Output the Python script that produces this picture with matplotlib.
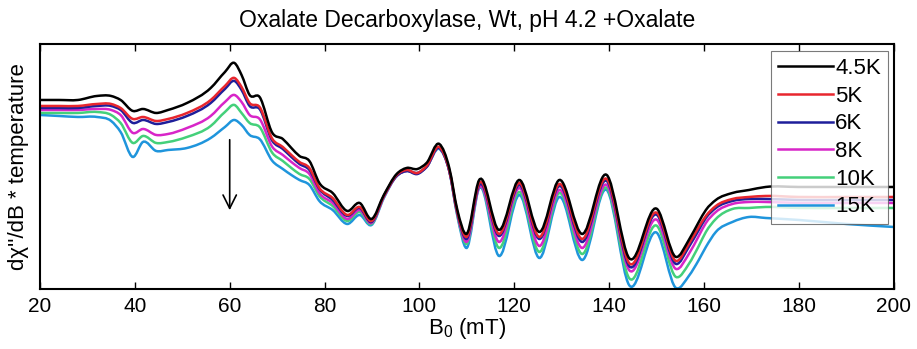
import numpy as np
import matplotlib
matplotlib.use("Agg")
import matplotlib.pyplot as plt
from matplotlib.path import Path
from matplotlib.patches import PathPatch
from matplotlib.lines import Line2D

plt.rcParams['font.family'] = ['Liberation Sans', 'DejaVu Sans']
plt.rcParams['mathtext.fontset'] = 'custom'
plt.rcParams['mathtext.rm'] = 'Liberation Sans'

# field positions (mT) of the read-off points
field = [20, 24, 28, 32, 35, 37, 39.6, 41.7, 44.5, 47, 51, 56, 59, 61, 62.5, 64.2,
         66.3, 69, 71.2, 73, 74.7, 76.8, 78.9, 81.7, 84.8, 87.4, 89.9, 92.5, 95.2,
         97.3, 99.6, 101.5, 104.2, 106.3, 108, 109.9, 112.6, 116.8, 121.1, 125.3,
         129.5, 134.3, 139.5, 144.2, 150.1, 154.1, 156.8, 158.9, 160.4, 162.5, 166,
         169.5, 173, 180, 190, 200]

# dX''/dB * T (arb. units) for each temperature
t4_5K = [189, 189, 189, 193, 193, 189, 178, 180, 176, 179, 186, 201, 217, 226, 214, 194,
         192, 156, 150, 141, 133, 128, 106, 96, 78, 86, 70, 94, 115,
         121, 120, 126, 145, 121, 79, 55, 109, 59, 109, 57,
         109, 55, 114, 31, 80, 32, 49, 67, 79, 89, 96,
         99, 102, 102, 102, 102]
t5K = [183, 183, 183, 185, 185, 181, 170, 172, 168, 170, 176, 189, 203, 211, 202, 186,
       182, 150, 142, 134, 127, 121, 101, 91, 74, 82, 68, 93, 114,
       119, 116, 123, 142, 119, 77, 52, 106, 55, 106, 52,
       105, 50, 110, 26, 76, 28, 45, 62, 73, 83, 90,
       92, 93, 92, 92, 92]
t6K = [181, 181, 181, 183, 183, 179, 166, 169, 165, 167, 173, 186, 200, 208, 199, 183,
       180, 148, 140, 132, 125, 119, 100, 89, 73, 81, 67, 93, 113,
       118, 115, 122, 141, 118, 76, 50, 104, 53, 104, 50,
       103, 47, 108, 23, 74, 25, 42, 59, 71, 81, 88,
       90, 90, 89, 89, 89]
t8K = [179, 179, 179, 180, 179, 174, 156, 160, 154, 155, 161, 173, 187, 194, 187, 174,
       170, 142, 134, 127, 121, 115, 96, 86, 70, 79, 66, 92, 113,
       118, 116, 122, 141, 118, 75, 47, 102, 47, 101, 43,
       99, 41, 104, 19, 69, 20, 35, 53, 66, 77, 85,
       87, 87, 86, 86, 86]
t10K = [176, 176, 176, 177, 174, 166, 146, 153, 146, 147, 152, 163, 177, 184, 176, 166,
        162, 136, 128, 121, 115, 110, 93, 83, 68, 77, 65, 92, 113,
        118, 116, 122, 141, 118, 74, 45, 102, 41, 97, 37,
        96, 35, 101, 11, 63, 12, 25, 43, 57, 70, 80,
        81, 82, 81, 81, 81]
t15K = [174, 173, 172, 172, 168, 157, 132, 147, 138, 139, 141, 151, 162, 169, 164, 154,
        150, 128, 120, 114, 109, 104, 88, 79, 65, 74, 64, 91, 113,
        118, 116, 122, 140, 118, 73, 41, 101, 33, 94, 31,
        92, 29, 99, 4, 56, 1, 13, 29, 42, 57, 67,
        72, 71, 69, 65, 62]

labels = ['4.5K', '5K', '6K', '8K', '10K', '15K']
series = [t4_5K, t5K, t6K, t8K, t10K, t15K]
colors = ['black', '#e8262e', '#1e1e9a', '#d825c8', '#44d07a', '#1f95dc']


def smooth_path(x, y):
    # cubic Hermite segments written as Bezier curves through every point
    x = np.asarray(x, float)
    y = np.asarray(y, float)
    m = np.gradient(y, x)
    verts = [(x[0], y[0])]
    codes = [Path.MOVETO]
    for i in range(len(x) - 1):
        h = x[i + 1] - x[i]
        verts += [(x[i] + h / 3, y[i] + m[i] * h / 3),
                  (x[i + 1] - h / 3, y[i + 1] - m[i + 1] * h / 3),
                  (x[i + 1], y[i + 1])]
        codes += [Path.CURVE4] * 3
    return Path(verts, codes)


fig = plt.figure(figsize=(9.17, 3.49), dpi=100)
ax = fig.add_axes([0.0436, 0.172, 0.931, 0.702])

for vals, c in zip(series[::-1], colors[::-1]):
    ax.add_patch(PathPatch(smooth_path(field, vals), fill=False, edgecolor=c, lw=1.8))
handles = [Line2D([], [], color=c, lw=1.8, label=lab) for c, lab in zip(colors, labels)]

ax.annotate('', xy=(60, 76), xytext=(60, 152),
            arrowprops=dict(arrowstyle='->', color='black', lw=1.2,
                            mutation_scale=24))

ax.set_xlim(20, 200)
ax.set_ylim(0, 245)
ax.set_xticks(np.arange(20, 201, 20))
ax.set_yticks([])
ax.tick_params(axis='x', direction='in', top=True, length=5, width=1,
               labelsize=15, pad=6)
for s in ax.spines.values():
    s.set_linewidth(1.5)

ax.set_title('Oxalate Decarboxylase, Wt, pH 4.2 +Oxalate', fontsize=16.5, pad=12)
ax.set_xlabel('$\\mathregular{B_0}$ (mT)', fontsize=16, labelpad=0)
ax.set_ylabel("dχ''/dB * temperature", fontsize=16)
ax.yaxis.set_label_coords(-0.013, 0.5)

leg = ax.legend(handles=handles, loc='upper right', bbox_to_anchor=(0.993, 0.97),
                fontsize=16, frameon=True, fancybox=False, handlelength=2.5,
                handletextpad=0.1, labelspacing=0.3, borderpad=0.3, borderaxespad=0)
leg.get_frame().set_edgecolor('0.35')
leg.get_frame().set_linewidth(0.8)

fig.savefig('out.png', dpi=100)
